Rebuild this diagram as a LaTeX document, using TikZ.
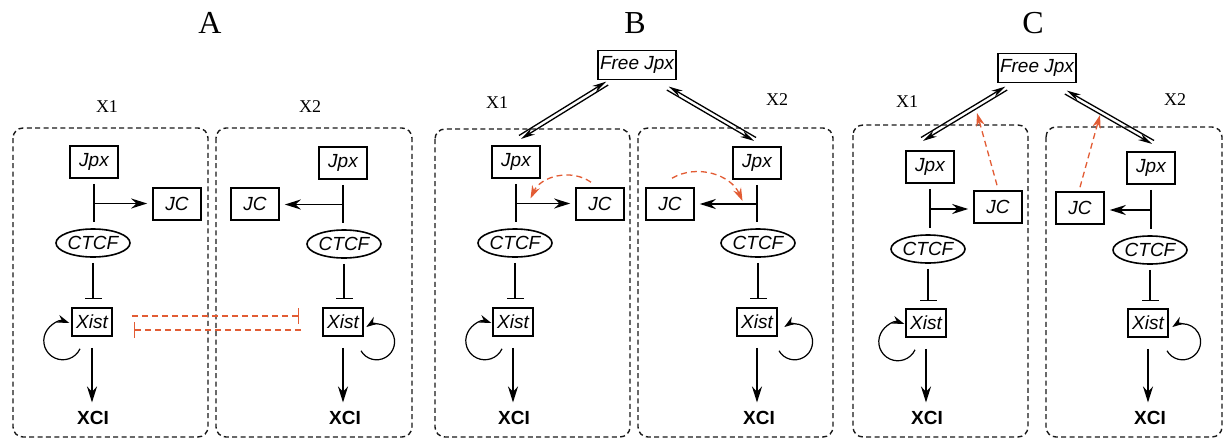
\documentclass[tikz,border=0pt]{standalone}
\usepackage{fontspec}
\setmainfont{Liberation Serif}
\setsansfont{Liberation Sans}
\usepackage{xcolor}
\usepackage{tikz}
\usetikzlibrary{arrows.meta,shapes.geometric,calc}
\definecolor{jcred}{RGB}{226,92,52}

\begin{document}
\begin{tikzpicture}[x=0.5pt, y=0.5pt, line width=0.8pt,
    gene/.style={draw, rectangle, inner sep=0pt, minimum width=24pt, minimum height=16pt, font=\sffamily\itshape\fontsize{9.5}{10}\selectfont},
    xist/.style={gene, minimum width=20pt, minimum height=14pt},
    free/.style={gene, minimum width=39pt, minimum height=14.5pt},
    ctcf/.style={draw, ellipse, inner sep=0pt, minimum width=37pt, minimum height=14pt, font=\sffamily\itshape\fontsize{9.5}{10}\selectfont},
    xci/.style={font=\sffamily\bfseries\fontsize{9.5}{10}\selectfont, inner sep=1pt},
    panel/.style={font=\fontsize{16}{18}\selectfont},
    chrom/.style={font=\fontsize{9}{10}\selectfont},
    frame/.style={draw=black!90, line width=0.7pt, dash pattern=on 2.5pt off 1.7pt, rounded corners=5pt},
    arr/.style={-{Stealth[length=8pt,width=5pt]}},
    inh/.style={-{Bar[width=8.5pt]}},
    selfarr/.style={line width=0.6pt, -{Stealth[length=6pt,width=4pt]}},
    eqarr/.style={line width=0.65pt, -{Stealth[length=7pt,width=3.5pt]}},
    redinh/.style={jcred, line width=0.65pt, dash pattern=on 3pt off 2pt, -{Bar[width=8pt]}},
    redarr/.style={jcred, line width=0.65pt, dash pattern=on 3pt off 2pt, -{Stealth[length=6.5pt,width=4.2pt]}}]
    \useasboundingbox (0,0) rectangle (1226,-439);

    % panel titles and chromosomes
    \node [panel] (tA) at (210,-23) {A};
    \node [panel] (tB) at (635,-23) {B};
    \node [panel] (tC) at (1033,-23) {C};
    \node [chrom] (lA1) at (107,-107) {X1};
    \node [chrom] (lA2) at (310,-107) {X2};
    \node [chrom] (lB1) at (497,-103) {X1};
    \node [chrom] (lB2) at (777,-100) {X2};
    \node [chrom] (lC1) at (907,-102) {X1};
    \node [chrom] (lC2) at (1175,-100) {X2};

    \draw [frame] (13,-128) rectangle (208,-437);
    \draw [frame] (216,-128) rectangle (412,-437);
    \draw [frame] (435,-129) rectangle (630,-437);
    \draw [frame] (638,-128) rectangle (833,-437);
    \draw [frame] (853,-125) rectangle (1028,-437);
    \draw [frame] (1046,-127) rectangle (1222,-437);

    % A, X1
    \node [gene] (jA1) at (94,-162) {Jpx};
    \node [gene] (jcA1) at (177,-204) {JC};
    \node [ctcf] (cA1) at (93,-243) {CTCF};
    \node [xist] (xA1) at (92,-322) {Xist};
    \node [xci] (zA1) at (93,-418) {XCI};
    \coordinate (kA1) at ($(jA1.south)!0.5!(cA1.north)$);
    \draw [shorten <=2.5pt, shorten >=3pt] (jA1.south) -- (jA1.south |- cA1.north);
    \draw [arr, shorten >=2.5pt] (kA1) -- (kA1 -| jcA1.west);
    \draw [inh, shorten <=2.5pt, shorten >=4pt] (cA1.south) -- (cA1.south |- xA1.north);
    \draw [arr, shorten <=5.5pt, shorten >=3pt] (xA1.south) -- (xA1.south |- zA1.north);
    \draw [selfarr] ([shift={(-12,-12)}]xA1.south) arc [start angle=-25, end angle=-290, radius=19];

    % A, X2
    \node [gene] (jA2) at (343,-163) {Jpx};
    \node [gene] (jcA2) at (255,-204) {JC};
    \node [ctcf] (cA2) at (344,-244) {CTCF};
    \node [xist] (xA2) at (343,-322) {Xist};
    \node [xci] (zA2) at (345,-418) {XCI};
    \coordinate (kA2) at ($(jA2.south)!0.5!(cA2.north)$);
    \draw [shorten <=2.5pt, shorten >=3pt] (jA2.south) -- (jA2.south |- cA2.north);
    \draw [arr, shorten >=2.5pt] (kA2) -- (kA2 -| jcA2.east);
    \draw [inh, shorten <=2.5pt, shorten >=4pt] (cA2.south) -- (cA2.south |- xA2.north);
    \draw [arr, shorten <=5.5pt, shorten >=3pt] (xA2.south) -- (xA2.south |- zA2.north);
    \draw [selfarr] ([shift={(18,-14)}]xA2.south) arc [start angle=210, end angle=485, radius=18];

    % A, mutual repression
    \draw [redinh] ([shift={(19,6)}]xA1.east) -- ([shift={(-23,6)}]xA2.west);
    \draw [redinh] ([shift={(-21,-8)}]xA2.west) -- ([shift={(21,-8)}]xA1.east);

    % B
    \node [free] (fB) at (637,-65) {Free Jpx};
    \node [gene] (jB1) at (516,-162) {Jpx};
    \node [gene] (jcB1) at (600,-204) {JC};
    \node [ctcf] (cB1) at (515,-243) {CTCF};
    \node [xist] (xB1) at (513,-322) {Xist};
    \node [xci] (zB1) at (514,-418) {XCI};
    \coordinate (kB1) at ($(jB1.south)!0.5!(cB1.north)$);
    \draw [shorten <=2.5pt, shorten >=3pt] (jB1.south) -- (jB1.south |- cB1.north);
    \draw [arr, shorten >=2.5pt] (kB1) -- (kB1 -| jcB1.west);
    \draw [inh, shorten <=2.5pt, shorten >=4pt] (cB1.south) -- (cB1.south |- xB1.north);
    \draw [arr, shorten <=5.5pt, shorten >=3pt] (xB1.south) -- (xB1.south |- zB1.north);
    \draw [selfarr] ([shift={(-11,-12)}]xB1.south) arc [start angle=-25, end angle=-290, radius=19];

    \node [gene] (jB2) at (757,-163) {Jpx};
    \node [gene] (jcB2) at (670,-204) {JC};
    \node [ctcf] (cB2) at (758,-243) {CTCF};
    \node [xist] (xB2) at (757,-322) {Xist};
    \node [xci] (zB2) at (759,-418) {XCI};
    \coordinate (kB2) at ($(jB2.south)!0.5!(cB2.north)$);
    \draw [shorten <=2.5pt, shorten >=3pt] (jB2.south) -- (jB2.south |- cB2.north);
    \draw [arr, shorten >=2.5pt] (kB2) -- (kB2 -| jcB2.east);
    \draw [inh, shorten <=2.5pt, shorten >=4pt] (cB2.south) -- (cB2.south |- xB2.north);
    \draw [arr, shorten <=5.5pt, shorten >=3pt] (xB2.south) -- (xB2.south |- zB2.north);
    \draw [selfarr] ([shift={(22,-14)}]xB2.south) arc [start angle=210, end angle=485, radius=18];

    \coordinate (eB1a) at ([shift={(4,8)}]jB1.north);
    \coordinate (eB1b) at ([shift={(10,-3)}]fB.south west);
    \coordinate (eB2a) at ([shift={(-9,-8)}]fB.south east);
    \coordinate (eB2b) at ([shift={(-2,7)}]jB2.north);
    \draw [eqarr] ([shift={(-1,1.7)}]eB1a) -- ([shift={(-1,1.7)}]eB1b);
    \draw [eqarr] ([shift={(1,-1.7)}]eB1b) -- ([shift={(1,-1.7)}]eB1a);
    \draw [eqarr] ([shift={(1,1.7)}]eB2b) -- ([shift={(1,1.7)}]eB2a);
    \draw [eqarr] ([shift={(-1,-1.7)}]eB2a) -- ([shift={(-1,-1.7)}]eB2b);

    \draw [redarr] ([shift={(-9,5)}]jcB1.north) to [bend right=50] ([shift={(15,5)}]kB1);
    \draw [redarr] ([shift={(2,9)}]jcB2.north) to [bend left=48] ([shift={(-15,3)}]kB2);

    % C
    \node [free] (fC) at (1037,-68) {Free Jpx};
    \node [gene] (jC1) at (930,-167) {Jpx};
    \node [gene] (jcC1) at (998,-207) {JC};
    \node [ctcf] (cC1) at (928,-249) {CTCF};
    \node [xist] (xC1) at (926,-323) {Xist};
    \node [xci] (zC1) at (927,-418) {XCI};
    \coordinate (kC1) at ($(jC1.south)!0.5!(cC1.north)$);
    \draw [shorten <=2.5pt, shorten >=3pt] (jC1.south) -- (jC1.south |- cC1.north);
    \draw [arr, shorten >=2.5pt] (kC1) -- (kC1 -| jcC1.west);
    \draw [inh, shorten <=2.5pt, shorten >=3.5pt] (cC1.south) -- (cC1.south |- xC1.north);
    \draw [arr, shorten <=5.5pt, shorten >=3pt] (xC1.south) -- (xC1.south |- zC1.north);
    \draw [selfarr] ([shift={(-11,-12)}]xC1.south) arc [start angle=-25, end angle=-290, radius=19];

    \node [gene] (jC2) at (1151,-168) {Jpx};
    \node [gene] (jcC2) at (1080,-208) {JC};
    \node [ctcf] (cC2) at (1150,-250) {CTCF};
    \node [xist] (xC2) at (1148,-323) {Xist};
    \node [xci] (zC2) at (1150,-418) {XCI};
    \coordinate (kC2) at ($(jC2.south)!0.5!(cC2.north)$);
    \draw [shorten <=2.5pt, shorten >=3pt] (jC2.south) -- (jC2.south |- cC2.north);
    \draw [arr, shorten >=2.5pt] (kC2) -- (kC2 -| jcC2.east);
    \draw [inh, shorten <=2.5pt, shorten >=3.5pt] (cC2.south) -- (cC2.south |- xC2.north);
    \draw [arr, shorten <=5.5pt, shorten >=3pt] (xC2.south) -- (xC2.south |- zC2.north);
    \draw [selfarr] ([shift={(19,-13)}]xC2.south) arc [start angle=210, end angle=485, radius=18];

    \coordinate (eC1a) at ([shift={(-8,11)}]jC1.north);
    \coordinate (eC1b) at ([shift={(9,-5)}]fC.south west);
    \coordinate (eC2a) at ([shift={(-11,-9)}]fC.south east);
    \coordinate (eC2b) at ([shift={(2,9)}]jC2.north);
    \draw [eqarr] ([shift={(-1,1.7)}]eC1a) -- ([shift={(-1,1.7)}]eC1b);
    \draw [eqarr] ([shift={(1,-1.7)}]eC1b) -- ([shift={(1,-1.7)}]eC1a);
    \draw [eqarr] ([shift={(1,1.7)}]eC2b) -- ([shift={(1,1.7)}]eC2a);
    \draw [eqarr] ([shift={(-1,-1.7)}]eC2a) -- ([shift={(-1,-1.7)}]eC2b);

    \coordinate (hC1) at (977,-113);
    \coordinate (hC2) at (1100,-115);
    \draw [redarr] ([shift={(-1,5)}]jcC1.north) -- (hC1);
    \draw [redarr] ([shift={(0,4)}]jcC2.north) -- (hC2);
\end{tikzpicture}
\end{document}
